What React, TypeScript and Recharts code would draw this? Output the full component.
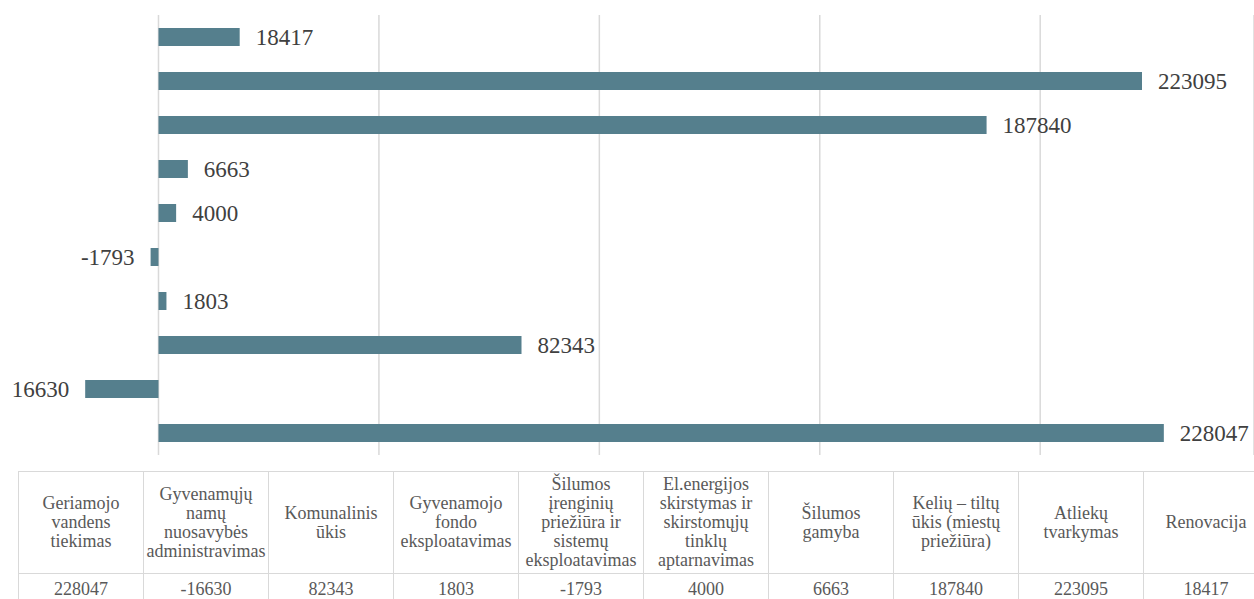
import React from 'react';
import { BarChart, Bar, XAxis, YAxis, CartesianGrid, LabelList } from 'recharts';

// categories in table order (left to right); chart draws the first one at the bottom
const categories = [
  'Geriamojo vandens tiekimas',
  'Gyvenamųjų namų nuosavybės administravimas',
  'Komunalinis ūkis',
  'Gyvenamojo fondo eksploatavimas',
  'Šilumos įrenginių priežiūra ir sistemų eksploatavimas',
  'El.energijos skirstymas ir skirstomųjų tinklų aptarnavimas',
  'Šilumos gamyba',
  'Kelių – tiltų ūkis (miestų priežiūra)',
  'Atliekų tvarkymas',
  'Renovacija',
];

// how the names break inside the table header cells
const headerLines = [
  ['Geriamojo', 'vandens', 'tiekimas'],
  ['Gyvenamųjų', 'namų', 'nuosavybės', 'administravimas'],
  ['Komunalinis', 'ūkis'],
  ['Gyvenamojo', 'fondo', 'eksploatavimas'],
  ['Šilumos', 'įrenginių', 'priežiūra ir', 'sistemų', 'eksploatavimas'],
  ['El.energijos', 'skirstymas ir', 'skirstomųjų', 'tinklų', 'aptarnavimas'],
  ['Šilumos', 'gamyba'],
  ['Kelių – tiltų', 'ūkis (miestų', 'priežiūra)'],
  ['Atliekų', 'tvarkymas'],
  ['Renovacija'],
];

const values = [228047, -16630, 82343, 1803, -1793, 4000, 6663, 187840, 223095, 18417];

const gridTicks = [0, 50000, 100000, 150000, 200000];

const chartData = categories.map((name, i) => ({ name, value: values[i] }));

const BAR_COLOR = '#557f8d';
const SERIF = '"Liberation Serif", "Times New Roman", serif';

function ValueLabel(props: any) {
  const { x, y, width, height, value } = props;
  const left = Math.min(x, x + width);
  const right = Math.max(x, x + width);
  const neg = value < 0;
  return (
    <text
      x={neg ? left - 16 : right + 16}
      y={y + height / 2}
      textAnchor={neg ? 'end' : 'start'}
      dominantBaseline="central"
      fill="#404040"
      fontFamily={SERIF}
      fontSize={23}
    >
      {value}
    </text>
  );
}

export default function App() {
  const cell: React.CSSProperties = {
    border: '1.5px solid #d9d9d9',
    textAlign: 'center',
    verticalAlign: 'middle',
    padding: 0,
    color: '#595959',
  };

  return (
    <div
      style={{
        position: 'absolute',
        left: 0,
        top: 0,
        width: 1254,
        height: 599,
        overflow: 'hidden',
        background: '#fff',
      }}
    >
      {/* the original picture is cropped just left of the -16630 label */}
      <div
        style={{
          position: 'absolute',
          left: 13,
          top: 0,
          width: 1241,
          height: 460,
          overflow: 'hidden',
        }}
      >
        <div style={{ position: 'absolute', left: -3, top: 0 }}>
          <BarChart
            width={1244}
            height={460}
            data={chartData}
            layout="vertical"
            margin={{ top: 15, right: 0, bottom: 5, left: 0 }}
          >
            <CartesianGrid horizontal={false} stroke="#d9d9d9" strokeWidth={1.5} />
            <XAxis
              type="number"
              domain={[-33685, 248500]}
              ticks={gridTicks}
              allowDataOverflow
              hide
            />
            <YAxis type="category" dataKey="name" reversed hide />
            <Bar dataKey="value" fill={BAR_COLOR} barSize={18} isAnimationActive={false}>
              <LabelList dataKey="value" content={ValueLabel} />
            </Bar>
          </BarChart>
        </div>
      </div>

      <table
        style={{
          position: 'absolute',
          left: 18,
          top: 471,
          borderCollapse: 'collapse',
          tableLayout: 'fixed',
          width: 1240,
          fontFamily: SERIF,
          fontSize: 18,
          lineHeight: '19px',
        }}
      >
        <tbody>
          <tr style={{ height: 102 }}>
            {headerLines.map((lines, i) => (
              <td key={categories[i]} style={{ ...cell, width: 124 }}>
                {lines.map((l, j) => (
                  <div key={j}>{l}</div>
                ))}
              </td>
            ))}
          </tr>
          <tr style={{ height: 32 }}>
            {values.map((v, i) => (
              <td key={categories[i]} style={cell}>
                {v}
              </td>
            ))}
          </tr>
        </tbody>
      </table>
    </div>
  );
}
